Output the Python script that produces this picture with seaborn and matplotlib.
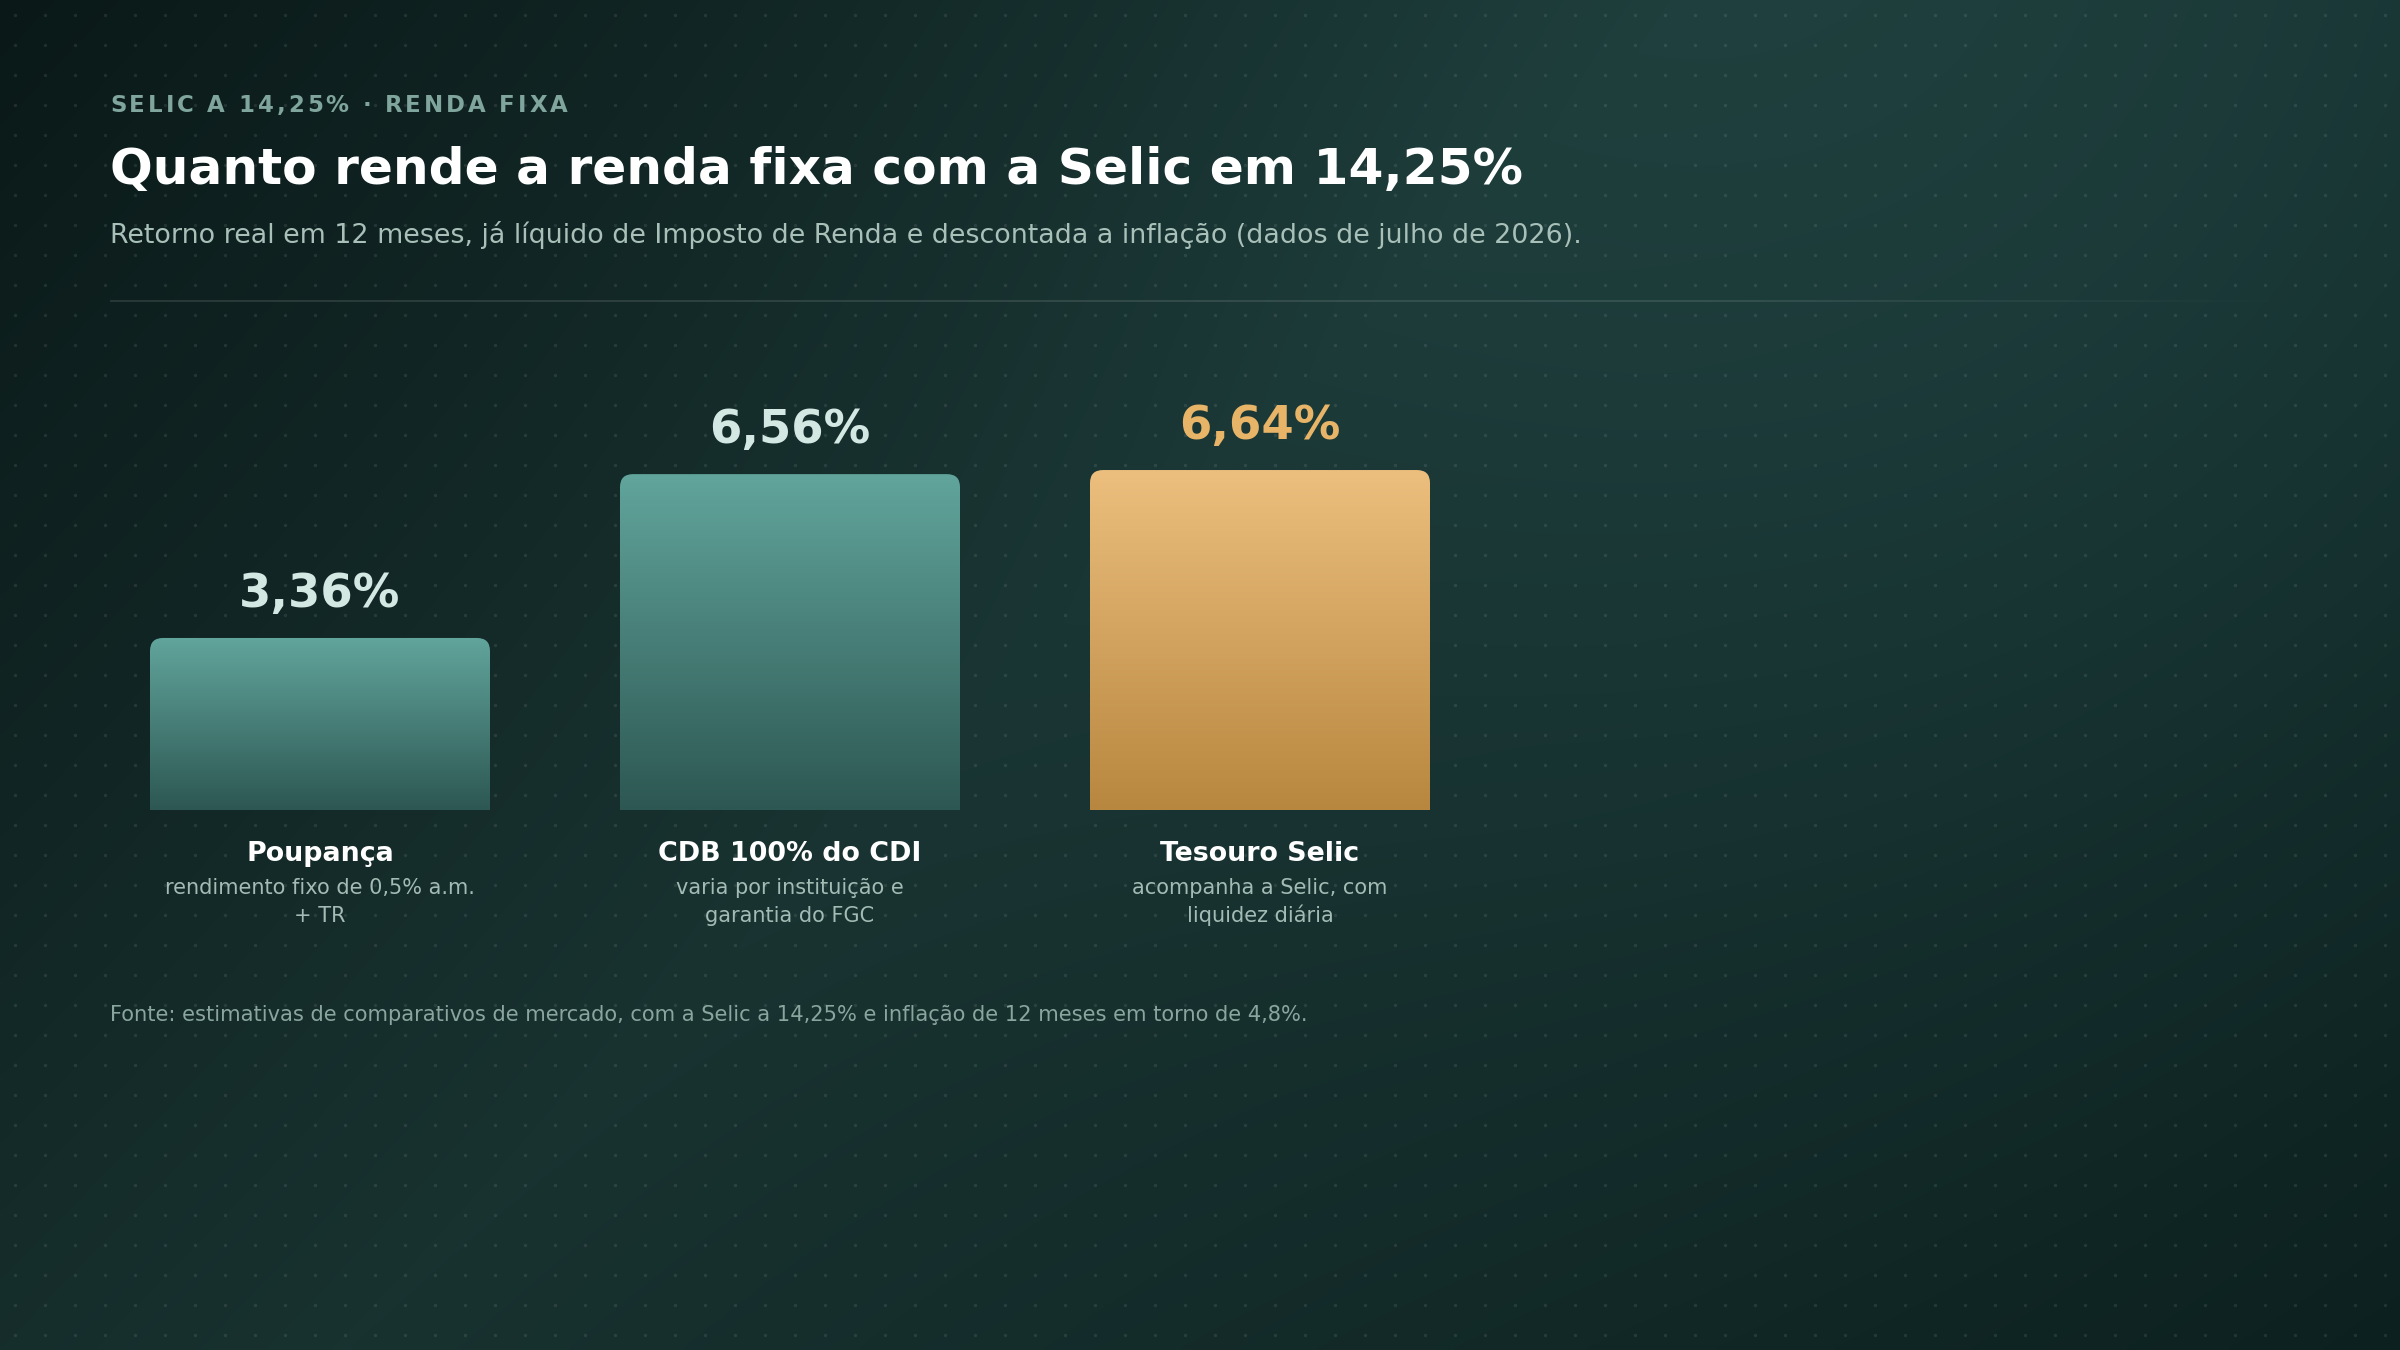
import numpy as np
import pandas as pd
import matplotlib
matplotlib.use("Agg")
import matplotlib.pyplot as plt
import seaborn as sns
from matplotlib.path import Path
from matplotlib.patches import PathPatch
from matplotlib.transforms import IdentityTransform, blended_transform_factory
from matplotlib.collections import LineCollection
from matplotlib.font_manager import FontProperties, findfont
from matplotlib.ft2font import FT2Font
from matplotlib.colors import to_rgb

# ---------------- data ----------------
categories = ["Poupança", "CDB 100% do CDI", "Tesouro Selic"]
values = [3.36, 6.56, 6.64]
value_labels = ["3,36%", "6,56%", "6,64%"]
descriptions = [["rendimento fixo de 0,5% a.m.", "+ TR"],
                ["varia por instituição e", "garantia do FGC"],
                ["acompanha a Selic, com", "liquidez diária"]]
highlight = [False, False, True]

eyebrow = "SELIC A 14,25% · RENDA FIXA"
title = "Quanto rende a renda fixa com a Selic em 14,25%"
subtitle = ("Retorno real em 12 meses, já líquido de Imposto de Renda e descontada "
            "a inflação (dados de julho de 2026).")
footer = ("Fonte: estimativas de comparativos de mercado, com a Selic a 14,25% e "
          "inflação de 12 meses em torno de 4,8%.")

# ---------------- style ----------------
sns.set_style("white")
plt.rcParams["font.family"] = ["DejaVu Sans"]

W, H = 2400, 1350
fig = plt.figure(figsize=(24, 13.5), dpi=100)

# ---------------- background ----------------
bg = fig.add_axes([0, 0, 1, 1], zorder=0)
bg.set_xlim(0, W)
bg.set_ylim(H, 0)
bg.axis("off")
ny, nx = 270, 480
yy, xx = np.mgrid[0:ny, 0:nx]
X = (xx + 0.5) * W / nx
Y = (yy + 0.5) * H / ny
t = (X + Y) / (W + H)
stops = [0.0, 0.45, 1.0]
cols = np.array([to_rgb("#0a1918"), to_rgb("#183230"), to_rgb("#0b1e1d")])
img = np.zeros((ny, nx, 3))
for c in range(3):
    img[..., c] = np.interp(t, stops, cols[:, c])
glow = np.exp(-(((X - 2000) ** 2) + ((Y - 120) ** 2)) / (2 * 650.0 ** 2))
img += glow[..., None] * np.array([0.03, 0.06, 0.06])
img = np.clip(img, 0, 1)
bg.imshow(img, extent=(0, W, H, 0), aspect="auto", interpolation="bilinear", zorder=0)
gx, gy = np.meshgrid(np.arange(15, W, 30), np.arange(15, H, 30))
bg.scatter(gx.ravel(), gy.ravel(), s=6, color="white", alpha=0.09, linewidths=0, zorder=1)

# divider line with fade
xs = np.linspace(110, 2290, 200)
segs = [[(xs[i], 301), (xs[i + 1], 301)] for i in range(len(xs) - 1)]
alphas = np.clip((2290 - xs[:-1]) / 600, 0, 1)
lc = LineCollection(segs, colors=[(1, 1, 1, 0.13 * a) for a in alphas], linewidths=1.2, zorder=2)
bg.add_collection(lc)

# ---------------- header texts ----------------
def fx(px):
    return px / W

def fy(py):
    return 1 - py / H

fp_eb = FontProperties(family="DejaVu Sans", weight="bold", size=16.5)
ft = FT2Font(findfont(fp_eb))
ft.set_size(16.5, 100)
xcur = 110.0
for ch in eyebrow:
    fig.text(fx(xcur), fy(112), ch, fontproperties=fp_eb, color="#7fa59c",
             ha="left", va="baseline", zorder=5)
    g = ft.load_char(ord(ch))
    xcur += g.linearHoriAdvance / 65536 + 2.9

fig.text(fx(110), fy(184), title, fontsize=36.2, fontweight="bold", color="#ffffff",
         ha="left", va="baseline")
fig.text(fx(110), fy(243), subtitle, fontsize=19.4, color="#a9c0b9",
         ha="left", va="baseline")
fig.text(fx(110), fy(1021), footer, fontsize=15.1, color="#8aa59e",
         ha="left", va="baseline")

# ---------------- bars ----------------
px_per_unit = 51.2
ymax = 8.0
ax_h = ymax * px_per_unit
ax = fig.add_axes([85 / W, 1 - 810 / H, 1410 / W, ax_h / H], zorder=3)
ax.patch.set_alpha(0)

df = pd.DataFrame({"cat": categories, "val": values})
sns.barplot(data=df, x="cat", y="val", hue="cat", palette=["#4a8a82", "#4a8a82", "#d9a75e"],
            width=340 / 470, legend=False, ax=ax)
ax.set_xlim(-0.5, 2.5)
ax.set_ylim(0, ymax)
ax.axis("off")

teal_top, teal_bot = np.array(to_rgb("#61a59c")), np.array(to_rgb("#2d5752"))
gold_top, gold_bot = np.array(to_rgb("#ecbf7e")), np.array(to_rgb("#b8873f"))
r = 13
for i, p in enumerate(list(ax.patches)):
    x0d, wd, hd = p.get_x(), p.get_width(), p.get_height()
    p.set_visible(False)
    (X0, Y0) = ax.transData.transform((x0d, 0))
    (X1, Y1) = ax.transData.transform((x0d + wd, hd))
    verts = [(X0, Y0), (X0, Y1 - r), (X0, Y1), (X0 + r, Y1), (X1 - r, Y1),
             (X1, Y1), (X1, Y1 - r), (X1, Y0), (X0, Y0)]
    codes = [Path.MOVETO, Path.LINETO, Path.CURVE3, Path.CURVE3, Path.LINETO,
             Path.CURVE3, Path.CURVE3, Path.LINETO, Path.CLOSEPOLY]
    clip = PathPatch(Path(verts, codes), transform=IdentityTransform(), facecolor="none",
                     edgecolor="none")
    top, bot = (gold_top, gold_bot) if highlight[i] else (teal_top, teal_bot)
    s = np.linspace(0, 1, 256)[:, None, None]
    grad = top[None, None, :] * (1 - s) + bot[None, None, :] * s
    im = ax.imshow(grad, extent=(x0d, x0d + wd, 0, hd), aspect="auto", origin="upper",
                   interpolation="bilinear", zorder=2)
    im.set_clip_path(clip)
ax.set_xlim(-0.5, 2.5)
ax.set_ylim(0, ymax)

for i, (v, lab) in enumerate(zip(values, value_labels)):
    ax.annotate(lab, (i, v), xytext=(0, 22.5), textcoords="offset points",
                ha="center", va="baseline", fontsize=33.5, fontweight="bold",
                color="#e8b468" if highlight[i] else "#d3e8e2", zorder=5)

tr = blended_transform_factory(ax.transData, fig.transFigure)
for i, cat in enumerate(categories):
    ax.text(i, fy(861), cat, transform=tr, ha="center", va="baseline", fontsize=19.4,
            fontweight="bold", color="#ffffff", clip_on=False)
    for j, line in enumerate(descriptions[i]):
        ax.text(i, fy(894 + 28 * j), line, transform=tr, ha="center", va="baseline",
                fontsize=15, color="#a3bbb4", clip_on=False)

fig.savefig("out.png", dpi=100)
